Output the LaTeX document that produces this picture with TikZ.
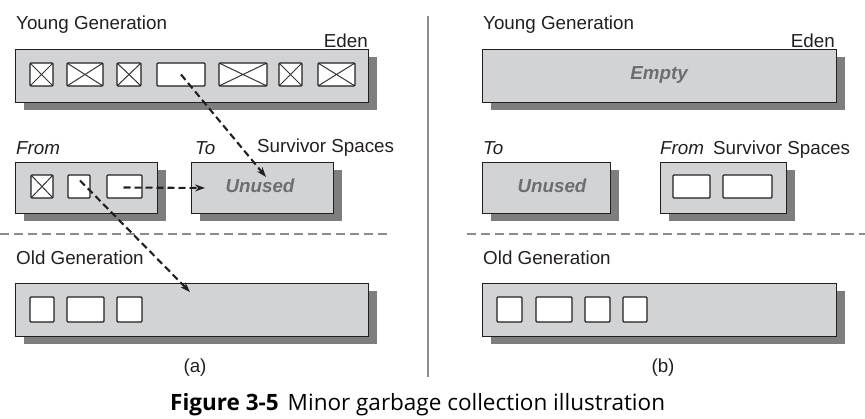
\documentclass[tikz,border=0pt]{standalone}
\usepackage{fontspec}
\setmainfont{Liberation Sans}
\newfontfamily\capfont{Open Sans}
\usetikzlibrary{arrows.meta,shadows,calc}
\definecolor{boxgray}{HTML}{D2D3D5}
\definecolor{shadgray}{HTML}{7E7E7E}
\definecolor{inkc}{HTML}{231F20}
\definecolor{faint}{HTML}{6D6E71}
\definecolor{sepgray}{HTML}{8C8C8C}
\tikzset{
  region/.style={draw=inkc, line width=1.2pt, fill=boxgray, anchor=north west, inner sep=0pt,
    drop shadow={shadow xshift=8pt, shadow yshift=-7pt, fill=shadgray, opacity=1, draw=none}},
  cell/.style={draw=inkc, line width=1.1pt, fill=white, rounded corners=1pt, inner sep=0pt, minimum height=23pt},
  xcell/.style={cell, path picture={\draw[inkc!90, line width=1pt]
      (path picture bounding box.north west) -- (path picture bounding box.south east)
      (path picture bounding box.south west) -- (path picture bounding box.north east);}},
  lbl/.style={text=inkc, font=\fontsize{18.8}{21}\selectfont, inner sep=0pt},
  ilbl/.style={lbl, font=\fontsize{18.8}{21}\selectfont\itshape},
  ghost/.style={text=faint, font=\fontsize{18.8}{21}\selectfont\bfseries\itshape, inner sep=0pt},
  move/.style={draw=inkc, line width=2.1pt, dash pattern=on 7pt off 4pt, -{Stealth[length=10pt,width=7pt]}},
  sep/.style={draw=sepgray, line width=1.1pt, dash pattern=on 9pt off 5pt},
}
\begin{document}
\begin{tikzpicture}[x=1pt,y=-1pt]
\useasboundingbox (0,0) rectangle (865,419);

% ---------------- (a) ----------------
\node[lbl, anchor=base west] (ygA) at (16,30) {Young Generation};
\node[lbl, anchor=base east] (edA) at (368,48) {Eden};
\node[region, minimum width=353pt, minimum height=53pt] (edenA) at (15,49) {};
\node[xcell, minimum width=23pt] (e1) at (41.5,74.5) {};
\node[xcell, minimum width=36pt] (e2) at (85,74.5) {};
\node[xcell, minimum width=24pt] (e3) at (129,74.5) {};
\node[cell,  minimum width=48pt] (e4) at (181,74.5) {};
\node[xcell, minimum width=48pt] (e5) at (243,74.5) {};
\node[xcell, minimum width=23pt] (e6) at (290.5,74.5) {};
\node[xcell, minimum width=37pt] (e7) at (336.5,74.5) {};

\node[ilbl, anchor=base west] (frA) at (16,155) {From};
\node[ilbl, anchor=base west] (toA) at (195,155) {To};
\node[lbl, anchor=base west] (svA) at (257,153) {Survivor Spaces};
\node[region, minimum width=142pt, minimum height=51pt] (fromA) at (15,162) {};
\node[region, minimum width=142pt, minimum height=51pt] (toboxA) at (191,162) {};
\node[ghost, anchor=base] (unA) at (260,193) {Unused};
\node[xcell, minimum width=22pt] (f1) at (42,186.5) {};
\node[cell,  minimum width=22pt] (f2) at (79,186.5) {};
\node[cell,  minimum width=35pt] (f3) at (124.5,186.5) {};

\draw[sep] (0,234) -- (390,234);
\node[lbl, anchor=base west] (ogA) at (16,265) {Old Generation};
\node[region, minimum width=353pt, minimum height=53pt] (oldA) at (15,283) {};
\node[cell, minimum width=24pt, minimum height=25pt] (o1) at (42,309.5) {};
\node[cell, minimum width=37pt, minimum height=25pt] (o2) at (85.5,309.5) {};
\node[cell, minimum width=25pt, minimum height=25pt] (o3) at (129.5,309.5) {};
\node[lbl, anchor=base] (capA) at (195,373) {(a)};

\coordinate (endE) at (266,177);
\coordinate (endT) at (205,188);
\coordinate (endO) at (190,292);
\draw[move] (e4.center) -- (endE);
\draw[move] ($(f3.center)+(-1,1)$) -- (endT);
\draw[move] ($(f2.center)+(1,-6)$) -- (endO);

% divider
\draw[sepgray, line width=1.1pt] (428,16) -- (428,377);

% ---------------- (b) ----------------
\node[lbl, anchor=base west] (ygB) at (483,30) {Young Generation};
\node[lbl, anchor=base east] (edB) at (835,48) {Eden};
\node[region, minimum width=354pt, minimum height=53pt] (edenB) at (482,49) {};
\node[ghost, anchor=base] (emB) at (659,80) {Empty};

\node[ilbl, anchor=base west] (toB) at (483,155) {To};
\node[ilbl, anchor=base west] (frB) at (660,155) {From};
\node[lbl, anchor=base west] (svB) at (713,155) {Survivor Spaces};
\node[region, minimum width=128pt, minimum height=51pt] (toboxB) at (482,162) {};
\node[ghost, anchor=base] (unB) at (552,193) {Unused};
\node[region, minimum width=126pt, minimum height=51pt] (fromB) at (660,162) {};
\node[cell, minimum width=37pt] (g1) at (691.5,186.5) {};
\node[cell, minimum width=49pt] (g2) at (747.5,186.5) {};

\draw[sep] (467,234) -- (865,234);
\node[lbl, anchor=base west] (ogB) at (483,265) {Old Generation};
\node[region, minimum width=354pt, minimum height=53pt] (oldB) at (482,283) {};
\node[cell, minimum width=25pt, minimum height=25pt] (p1) at (509.5,309.5) {};
\node[cell, minimum width=36pt, minimum height=25pt] (p2) at (554,309.5) {};
\node[cell, minimum width=25pt, minimum height=25pt] (p3) at (597.5,309.5) {};
\node[cell, minimum width=24pt, minimum height=25pt] (p4) at (635,309.5) {};
\node[lbl, anchor=base] (capB) at (663,373) {(b)};

% caption
\node[anchor=base west, inner sep=0pt, text=black, font=\capfont\fontsize{22.5}{26}\selectfont] (fig) at (170,411)
  {\textbf{Figure 3-5}\hspace{0.4em}Minor garbage collection illustration};
\end{tikzpicture}
\end{document}
